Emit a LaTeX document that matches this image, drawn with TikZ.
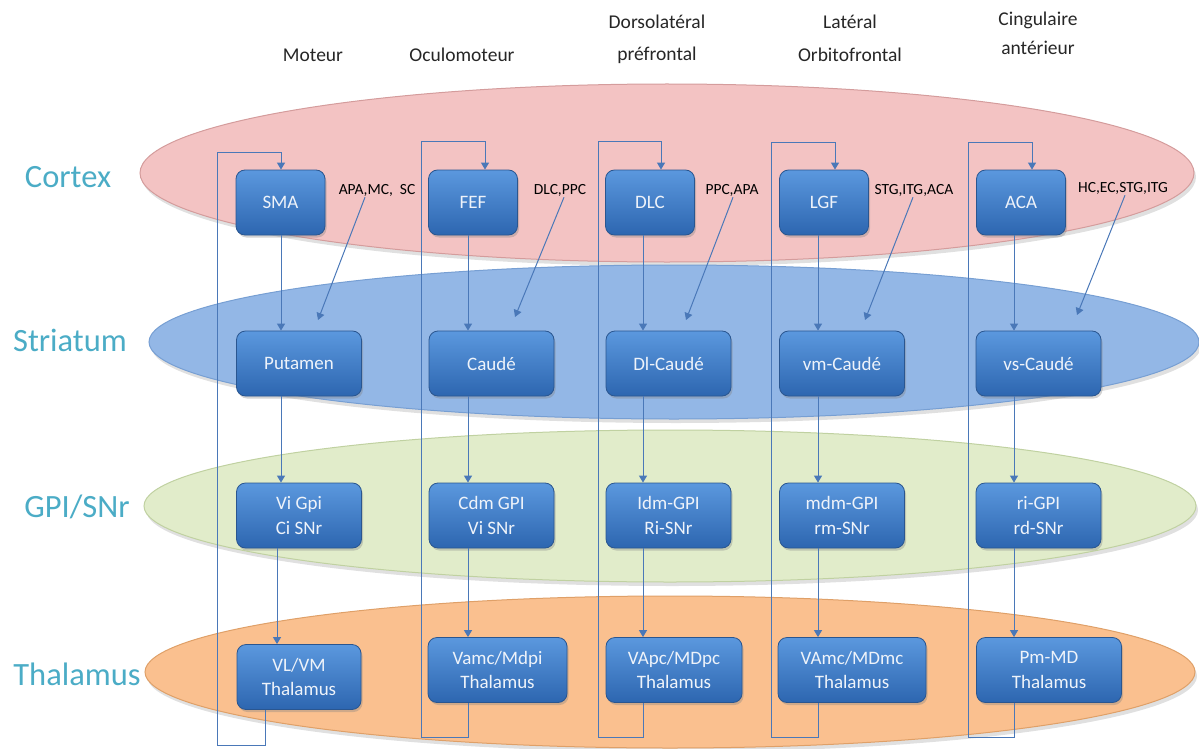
\documentclass[tikz,border=0pt]{standalone}
\usepackage{fontspec}
\setmainfont{Carlito}
\usetikzlibrary{arrows.meta,shadows}
\definecolor{ctxfill}{HTML}{F3C3C3}
\definecolor{ctxedge}{HTML}{D49C9C}
\definecolor{strfill}{HTML}{93B7E6}
\definecolor{stredge}{HTML}{779FD3}
\definecolor{gpifill}{HTML}{E1ECCA}
\definecolor{gpiedge}{HTML}{C0D1A1}
\definecolor{thafill}{HTML}{FAC08F}
\definecolor{thaedge}{HTML}{DFA068}
\definecolor{boxtop}{HTML}{5B98DE}
\definecolor{boxbot}{HTML}{2D66B0}
\definecolor{boxedge}{HTML}{2A5690}
\definecolor{boxtext}{HTML}{EEF3FA}
\definecolor{arrcol}{HTML}{4A78B8}
\definecolor{layercol}{HTML}{4BACC6}
\begin{document}
\begin{tikzpicture}[x=1pt,y=-1pt,
  boxn/.style={rounded corners=9pt, draw=boxedge, line width=0.8pt,
    top color=boxtop, bottom color=boxbot, text=boxtext,
    font=\fontsize{19}{24.5}\selectfont, align=center, inner sep=0pt,
    drop shadow={opacity=0.35, shadow xshift=1.5pt, shadow yshift=-2.5pt}},
  ctxbox/.style={boxn, minimum width=89pt, minimum height=65pt},
  lowbox/.style={boxn, minimum width=125pt, minimum height=65pt},
  lname/.style={text=layercol, font=\fontsize{32.5}{32.5}\selectfont},
  head/.style={text=black!85, font=\fontsize{19.5}{19.5}\selectfont},
  annot/.style={text=black, font=\fontsize{15.5}{15.5}\selectfont, inner sep=1pt},
  arr/.style={draw=arrcol, line width=1pt, -{Triangle[width=8pt,length=7pt]}},
  loopline/.style={draw=arrcol, line width=1pt, -{Triangle[width=8pt,length=7pt]}},
  layerell/.style={line width=1pt},
  layershadow/.style={black, opacity=0.12}
]
\useasboundingbox (0,0) rectangle (1199,749);

% layer ellipses
\fill[layershadow] (669,177) ellipse [x radius=527pt, y radius=89pt];
\filldraw[layerell, fill=ctxfill, draw=ctxedge] (667,173) ellipse [x radius=527pt, y radius=89pt];
\fill[layershadow] (676,346) ellipse [x radius=525pt, y radius=77pt];
\filldraw[layerell, fill=strfill, draw=stredge] (674,342) ellipse [x radius=525pt, y radius=77pt];
\fill[layershadow] (672,510) ellipse [x radius=526pt, y radius=76pt];
\filldraw[layerell, fill=gpifill, draw=gpiedge] (670,506) ellipse [x radius=526pt, y radius=76pt];
\fill[layershadow] (672,676) ellipse [x radius=525pt, y radius=76pt];
\filldraw[layerell, fill=thafill, draw=thaedge] (670,672) ellipse [x radius=525pt, y radius=76pt];

% layer names
\node[lname] (Lctx) at (68,177) {Cortex};
\node[lname] (Lstr) at (70,340) {Striatum};
\node[lname] (Lgpi) at (77,507) {GPI/SNr};
\node[lname] (Ltha) at (77,674) {Thalamus};

% column headers
\node[head] (h1) at (313,55) {Moteur};
\node[head] (h2) at (462,55) {Oculomoteur};
\node[head] (h3a) at (657,22) {Dorsolatéral};
\node[head] (h3b) at (657,55) {préfrontal};
\node[head] (h4a) at (850,22) {Latéral};
\node[head] (h4b) at (850,55) {Orbitofrontal};
\node[head] (h5a) at (1038,20) {Cingulaire};
\node[head] (h5b) at (1038,48) {antérieur};

% boxes
\node[ctxbox] (SMA) at (280.5,202.5) {SMA};
\node[ctxbox] (FEF) at (473,202.5) {FEF};
\node[ctxbox] (DLC) at (650,202.5) {DLC};
\node[ctxbox] (LGF) at (824,202.5) {LGF};
\node[ctxbox] (ACA) at (1021,202.5) {ACA};

\node[lowbox] (Put) at (299,363.5) {Putamen};
\node[lowbox] (Cau) at (491.5,363.5) {Caudé};
\node[lowbox] (DlC) at (668.5,363.5) {Dl-Caudé};
\node[lowbox] (vmC) at (842,363.5) {vm-Caudé};
\node[lowbox] (vsC) at (1038.5,363.5) {vs-Caudé};

\node[lowbox] (G1) at (299,515.5) {Vi Gpi\\Ci SNr};
\node[lowbox] (G2) at (491.5,515.5) {Cdm GPI\\Vi SNr};
\node[lowbox] (G3) at (668.5,515.5) {Idm-GPI\\Ri-SNr};
\node[lowbox] (G4) at (842,515.5) {mdm-GPI\\rm-SNr};
\node[lowbox] (G5) at (1038.5,515.5) {ri-GPI\\rd-SNr};

\node[lowbox, minimum width=124pt] (T1) at (299,677) {VL/VM\\Thalamus};
\node[lowbox, minimum width=139pt] (T2) at (497.5,670) {Vamc/Mdpi\\Thalamus};
\node[lowbox, minimum width=136pt] (T3) at (674,670) {VApc/MDpc\\Thalamus};
\node[lowbox, minimum width=148pt] (T4) at (852,670) {VAmc/MDmc\\Thalamus};
\node[lowbox, minimum width=145pt] (T5) at (1049,670) {Pm-MD\\Thalamus};

% annotation labels
\node[annot] (a1) at (377,190) {APA,MC,\ \ SC};
\node[annot] (a2) at (560,190) {DLC,PPC};
\node[annot] (a3) at (732,190) {PPC,APA};
\node[annot] (a4) at (914,190) {STG,ITG,ACA};
\node[annot] (a5) at (1123,188) {HC,EC,STG,ITG};

% column arrow x positions
\coordinate (x1) at (281,0); \coordinate (x1b) at (277,0);
\coordinate (x2) at (468,0);
\coordinate (x3) at (643,0);
\coordinate (x4) at (818,0);
\coordinate (x5) at (1014,0);

% vertical arrows
\draw[arr] (SMA.south -| x1) -- (Put.north -| x1);
\draw[arr] (Put.south -| x1) -- (G1.north -| x1);
\draw[arr] (G1.south -| x1b) -- (T1.north -| x1b);
\foreach \c/\s/\g/\t/\x in {FEF/Cau/G2/T2/x2, DLC/DlC/G3/T3/x3, LGF/vmC/G4/T4/x4, ACA/vsC/G5/T5/x5}{
  \draw[arr] (\c.south -| \x) -- (\s.north -| \x);
  \draw[arr] (\s.south -| \x) -- (\g.north -| \x);
  \draw[arr] (\g.south -| \x) -- (\t.north -| \x);
}

% feedback loops
\coordinate (r1) at (265,0);
\coordinate (b1) at (217,745); \coordinate (t1) at (217,152); \coordinate (e1) at (281,0);
\coordinate (b2) at (421,737); \coordinate (t2) at (421,142); \coordinate (e2) at (485,0);
\coordinate (b3) at (598,737); \coordinate (t3) at (598,142); \coordinate (e3) at (661,0);
\coordinate (b4) at (771,737); \coordinate (t4) at (771,143); \coordinate (e4) at (835,0);
\coordinate (b5) at (968,737); \coordinate (t5) at (968,143); \coordinate (e5) at (1032,0);
\draw[loopline] (T1.south -| r1) |- (b1) -- (t1) -| (SMA.north -| e1);
\draw[loopline] (T2.south -| x2) |- (b2) -- (t2) -| (FEF.north -| e2);
\draw[loopline] (T3.south -| x3) |- (b3) -- (t3) -| (DLC.north -| e3);
\draw[loopline] (T4.south -| x4) |- (b4) -- (t4) -| (LGF.north -| e4);
\draw[loopline] (T5.south -| x5) |- (b5) -- (t5) -| (ACA.north -| e5);

% diagonal input arrows
\coordinate (d1) at (318,320);
\coordinate (d2) at (515,317);
\coordinate (d3) at (686,320);
\coordinate (d4) at (865,320);
\coordinate (d5) at (1077,315);
\draw[arr] ([xshift=-12pt]a1.south) -- (d1);
\draw[arr] ([xshift=4pt]a2.south) -- (d2);
\draw[arr] ([xshift=1pt]a3.south) -- (d3);
\draw[arr] ([xshift=-1pt]a4.south) -- (d4);
\draw[arr] ([xshift=2pt]a5.south) -- (d5);
\end{tikzpicture}
\end{document}
